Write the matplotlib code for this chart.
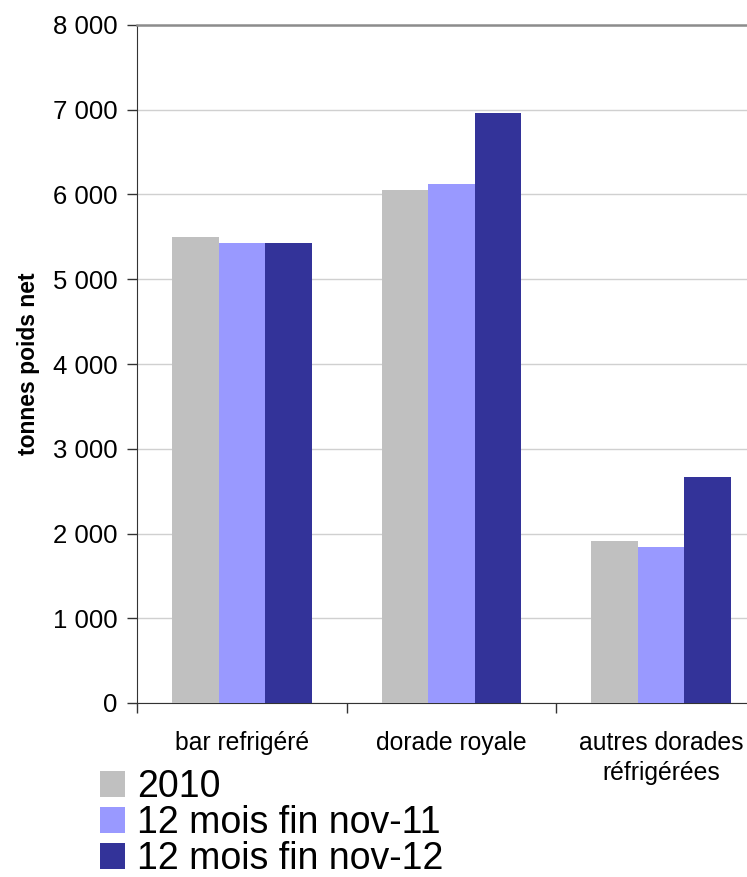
import matplotlib.pyplot as plt
import numpy as np
from matplotlib.patches import Patch

plt.rcParams['font.family'] = ['Liberation Sans', 'DejaVu Sans']

# données
categories = ['bar refrigéré', 'dorade royale', 'autres dorades\nréfrigérées']
series_names = ['2010', '12 mois fin nov-11', '12 mois fin nov-12']
v2010 = [5500, 6050, 1908]
v_nov11 = [5430, 6120, 1836]
v_nov12 = [5430, 6960, 2672]
colors = ['#C0C0C0', '#9999FF', '#333399']

W, H = 747, 877
fig = plt.figure(figsize=(W / 100, H / 100), dpi=100)
# l'axe dépasse le bord droit de l'image (coupé comme dans l'original)
ax = fig.add_axes([137 / W, 1 - 703 / H, (766 - 137) / W, (703 - 25) / H])

x = np.arange(len(categories))
bw = 0.222
for i, (vals, c) in enumerate(zip([v2010, v_nov11, v_nov12], colors)):
    ax.bar(x + (i - 1) * bw, vals, width=bw, color=c, zorder=3)

ax.set_xlim(-0.5, len(categories) - 0.5)
ax.set_ylim(0, 8000)
ax.set_yticks(range(0, 8001, 1000))
ax.set_yticklabels([f'{v:,}'.replace(',', ' ') for v in range(0, 8001, 1000)], fontsize=18.5)
ax.grid(axis='y', color='#d0d0d0', linewidth=1, zorder=0)

# graduations x aux limites des catégories, étiquettes au centre
ax.set_xticks(np.arange(-0.5, len(categories) + 0.5, 1.0))
ax.set_xticklabels([])
ax.set_xticks(x, minor=True)
ax.set_xticklabels(categories, minor=True, fontsize=17.8, linespacing=1.35)
ax.tick_params(axis='x', which='minor', length=0, pad=20)
ax.tick_params(axis='x', which='major', length=7, width=1, color='#333333')
ax.tick_params(axis='y', length=7, width=1, color='#333333', pad=7)

ax.spines['right'].set_visible(False)
ax.spines['top'].set_color('#8c8c8c')
ax.spines['top'].set_linewidth(1.8)
ax.spines['left'].set_color('#333333')
ax.spines['bottom'].set_color('#333333')

ax.set_ylabel('tonnes poids net', fontsize=16.5, fontweight='bold')
ax.yaxis.set_label_coords((40 - 137) / (766 - 137), 0.5)

handles = [Patch(facecolor=c, edgecolor='none') for c in colors]
fig.legend(handles, series_names, loc='upper left',
           bbox_to_anchor=(100 / W, 1 - 769 / H), frameon=False,
           fontsize=27, handlelength=0.67, handleheight=0.67,
           handletextpad=0.32, labelspacing=0.0, borderpad=0,
           borderaxespad=0)

fig.savefig('out.png', dpi=100)
